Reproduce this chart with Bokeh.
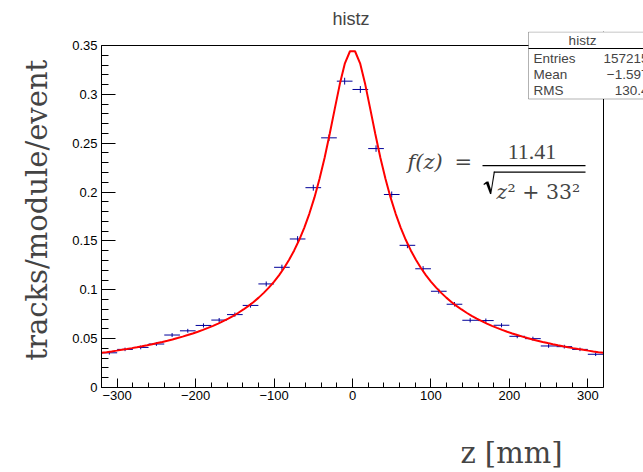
import numpy as np
from bokeh.plotting import figure
from bokeh.models import (Range1d, FixedTicker, Label, BoxAnnotation, ColumnDataSource, Span, Title,
                          PolyAnnotation)
from bokeh.embed import file_html
from bokeh.resources import INLINE

# ---------------- data ----------------
bin_centers = [-310, -290, -270, -250, -230, -210, -190, -170, -150, -130, -110, -90,
               -70, -50, -30, -10, 10, 30, 50, 70, 90, 110, 130, 150,
               170, 190, 210, 230, 250, 270, 290, 310]
tracks = [0.0355, 0.0390, 0.0410, 0.0445, 0.0537, 0.0580, 0.0635, 0.0690, 0.0746, 0.0840, 0.1060, 0.1230,
          0.1520, 0.2045, 0.2555, 0.3135, 0.3050, 0.2445, 0.1975, 0.1455, 0.1215, 0.0985, 0.0852, 0.0688,
          0.0685, 0.0637, 0.0524, 0.0500, 0.0425, 0.0418, 0.0390, 0.0340]
errors = [0.0018, 0.0018, 0.0019, 0.0019, 0.0020, 0.0020, 0.0021, 0.0021, 0.0022, 0.0023, 0.0025, 0.0027,
          0.0029, 0.0031, 0.0033, 0.0035, 0.0035, 0.0033, 0.0031, 0.0029, 0.0027, 0.0025, 0.0023, 0.0022,
          0.0021, 0.0021, 0.0020, 0.0020, 0.0019, 0.0019, 0.0018, 0.0018]
bin_width = 20
fit_amplitude = 11.41
fit_width = 33.0

x_ticks = [-300, -200, -100, 0, 100, 200, 300]
x_tick_labels = ["\u2212300", "\u2212200", "\u2212100", "0", "100", "200", "300"]
y_ticks = [0.0, 0.05, 0.10, 0.15, 0.20, 0.25, 0.30, 0.35]
y_tick_labels = ["0", "0.05", "0.1", "0.15", "0.2", "0.25", "0.3", "0.35"]

stats_title = "histz"
stats_names = ["Entries", "Mean", "RMS"]
stats_values = ["157215", "\u22121.597", "130.4"]

# ---------------- layout helpers (page pixel -> data) ----------------
X0, X1, XL, XR = -320.0, 320.0, 101.0, 603.0
Y0, Y1, YB, YT = 0.0, 0.35, 387.0, 45.0
W, H = 643, 472
FRAME_TOP = 31


def px2x(px):
    return X0 + (px - XL) * (X1 - X0) / (XR - XL)


def py2y(py):
    return Y0 + (YB - py) * (Y1 - Y0) / (YB - YT)


p = figure(frame_width=W - int(XL), frame_height=int(YB) - FRAME_TOP,
           output_backend="svg", toolbar_location=None,
           x_range=Range1d(X0, px2x(W)), y_range=Range1d(Y0, py2y(FRAME_TOP)), title=None,
           min_border_left=int(XL), min_border_right=0, min_border_top=FRAME_TOP,
           min_border_bottom=H - int(YB) - 2)

p.border_fill_color = "white"
p.background_fill_color = "white"
p.outline_line_color = None
p.xgrid.visible = False
p.ygrid.visible = False

for ax in (p.xaxis[0], p.yaxis[0]):
    ax.axis_line_color = "black"
    ax.major_tick_line_color = "black"
    ax.minor_tick_line_color = "black"
    ax.major_tick_out = 0
    ax.minor_tick_out = 0
    ax.major_label_text_font = "Liberation Sans"
    ax.major_label_text_font_size = "13px"
    ax.major_label_text_color = "black"

p.xaxis.bounds = (X0, X1)
p.xaxis.ticker = FixedTicker(ticks=x_ticks, minor_ticks=list(range(-320, 321, 20)))
p.xaxis.major_label_overrides = {t: l for t, l in zip(x_ticks, x_tick_labels)}
p.xaxis.major_tick_in = 9
p.xaxis.minor_tick_in = 5
p.xaxis.major_label_standoff = 3

p.yaxis.bounds = (Y0, Y1)
p.yaxis.ticker = FixedTicker(ticks=y_ticks, minor_ticks=[i * 0.01 for i in range(36)])
p.yaxis.major_label_overrides = {t: l for t, l in zip(y_ticks, y_tick_labels)}
p.yaxis.major_tick_in = 14
p.yaxis.minor_tick_in = 7
p.yaxis.major_label_standoff = 4

# frame top / right edges
p.add_layout(Span(location=X1, dimension="height", line_color="black", line_width=1))
p.add_layout(Span(location=Y1, dimension="width", line_color="black", line_width=1))

# ---------------- titles ----------------
p.title = Title(text="histz", align="left", offset=332 - XL, standoff=5,
                text_font="Liberation Sans", text_font_size="18px", text_font_style="normal")
p.add_layout(Title(text="tracks/module/event", align="left", offset=27, standoff=32,
                   text_font="DejaVu Serif", text_font_size="29px", text_font_style="normal"), "left")
# spacer between tick labels and the x title
p.add_layout(Title(text=" ", text_font_size="1px", standoff=28), "below")
p.add_layout(Title(text="z [mm]", align="right", offset=W - 562, standoff=0,
                   text_font="DejaVu Serif", text_font_size="29px", text_font_style="normal"), "below")

# ---------------- histogram points ----------------
bc = np.array(bin_centers, dtype=float)
tv = np.array(tracks)
er = np.array(errors)
src = ColumnDataSource(dict(x=bc, y=tv, xl=bc - bin_width / 2, xr=bc + bin_width / 2,
                            lo=tv - er, hi=tv + er))
p.segment(x0="xl", y0="y", x1="xr", y1="y", source=src, line_color="#000099", line_width=1)
p.segment(x0="x", y0="lo", x1="x", y1="hi", source=src, line_color="#000099", line_width=1)

# ---------------- fit curve ----------------
zf = np.linspace(X0, X1, 100)
ff = fit_amplitude / np.sqrt(zf ** 2 + fit_width ** 2)
p.line(zf, ff, line_color="#ff0000", line_width=2)

# ---------------- formula ----------------
p.add_layout(Label(x=px2x(407), y=py2y(161), text="f(z)", text_align="left", text_baseline="middle",
                   text_font="DejaVu Serif", text_font_style="italic", text_font_size="21px"))
p.add_layout(Label(x=px2x(454), y=py2y(161), text="=", text_align="left", text_baseline="middle",
                   text_font="DejaVu Serif", text_font_size="21px"))
p.add_layout(Label(x=px2x(531.5), y=py2y(151), text="11.41", text_align="center", text_baseline="middle",
                   text_font="Liberation Serif", text_font_size="22px"))
p.add_layout(BoxAnnotation(left=px2x(482), right=px2x(585), top=py2y(164.4), bottom=py2y(165.7),
                           fill_color="black", fill_alpha=1.0, line_alpha=0))
# radical sign outline (page pixels)
rad_px = [483.0, 485.8, 487.9, 490.5, 493.3, 494.4, 490.7, 489.6, 485.7, 483.5]
rad_py = [183.6, 181.2, 181.0, 189.3, 171.2, 171.2, 193.5, 193.5, 183.2, 184.6]
p.add_layout(PolyAnnotation(xs=[px2x(v) for v in rad_px], ys=[py2y(v) for v in rad_py],
                            fill_color="black", fill_alpha=1.0, line_color="black", line_width=0.3))
p.add_layout(BoxAnnotation(left=px2x(493.3), right=px2x(585), top=py2y(171.0), bottom=py2y(172.2),
                           fill_color="black", fill_alpha=1.0, line_alpha=0))
p.add_layout(Label(x=px2x(496), y=py2y(191), text="z", text_align="left", text_baseline="alphabetic",
                   text_font="DejaVu Serif", text_font_style="italic", text_font_size="20px"))
p.add_layout(Label(x=px2x(507), y=py2y(191), text="\u00b2 + 33\u00b2", text_align="left",
                   text_baseline="alphabetic", text_font="DejaVu Serif", text_font_size="20.5px"))

# ---------------- stats box ----------------
p.add_layout(BoxAnnotation(left=px2x(528), right=px2x(700), top=py2y(31.5), bottom=py2y(98.5),
                           fill_color="white", fill_alpha=1.0, line_color="black", line_width=1))
p.add_layout(BoxAnnotation(left=px2x(528), right=px2x(700), top=py2y(47.5), bottom=py2y(48.5),
                           fill_color="black", fill_alpha=1.0, line_alpha=0))
p.add_layout(Label(x=px2x(582), y=py2y(39.5), text=stats_title, text_align="center", text_baseline="middle",
                   text_font="Liberation Sans", text_font_size="13.5px"))
for i, (nm, vl) in enumerate(zip(stats_names, stats_values)):
    yy = py2y(58 + 16 * i)
    p.add_layout(Label(x=px2x(533), y=yy, text=nm, text_align="left", text_baseline="middle",
                       text_font="Liberation Sans", text_font_size="13.5px"))
    p.add_layout(Label(x=px2x(648), y=yy, text=vl, text_align="right", text_baseline="middle",
                       text_font="Liberation Sans", text_font_size="13.5px"))

open("out.html", "w").write(file_html(p, INLINE))
